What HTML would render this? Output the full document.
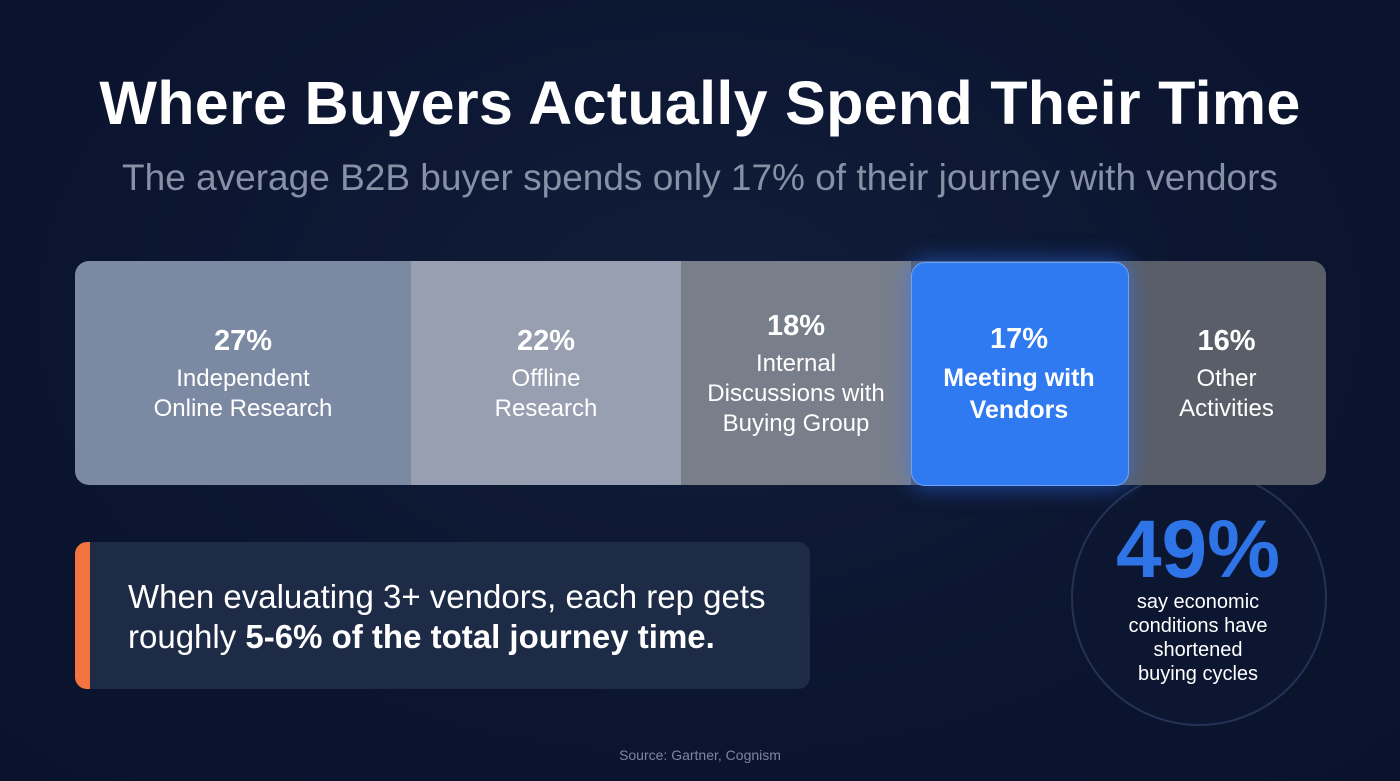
<!DOCTYPE html>
<html><head><style>
body{margin:0;width:1400px;height:781px;overflow:hidden;background:radial-gradient(ellipse at 50% 40%,#111d3a 0%,#0b1530 60%,#0a132b 100%);font-family:"Liberation Sans",sans-serif;color:#fff;position:relative}
.a{position:absolute}
.t{left:0;width:1400px;text-align:center}
.seg{position:absolute;top:261px;height:224px;display:flex;flex-direction:column;align-items:center;justify-content:center;text-align:center;font-size:24px;line-height:30px}
.seg b{font-size:29px;line-height:38px;margin-bottom:4px}
</style></head><body>
<div class="a t" style="top:68px;font-size:61px;font-weight:bold;letter-spacing:0.3px">Where Buyers Actually Spend Their Time</div>
<div class="a t" style="top:157px;font-size:37px;color:#8691a6">The average B2B buyer spends only 17% of their journey with vendors</div>
<div class="a" style="left:1071px;top:470px;width:252px;height:252px;border-radius:50%;border:2px solid #243256;background:#0c1630"></div>
<div class="a" style="left:75px;top:261px;width:1251px;height:224px;border-radius:14px;overflow:hidden">
<div class="a" style="left:0;top:0;width:336px;height:224px;background:#7b89a2"></div>
<div class="a" style="left:336px;top:0;width:270px;height:224px;background:#979fb0"></div>
<div class="a" style="left:606px;top:0;width:230px;height:224px;background:#797e8b"></div>
<div class="a" style="left:836px;top:0;width:415px;height:224px;background:#5a5e68"></div>
</div>
<div class="a" style="left:911px;top:262px;width:216px;height:222px;border-radius:14px;background:#2f7af0;border:1px solid #6ea4f7;box-shadow:0 0 24px rgba(50,120,255,0.6)"></div>
<div class="seg" style="left:75px;width:336px"><b>27%</b>Independent<br>Online Research</div>
<div class="seg" style="left:411px;width:270px"><b>22%</b>Offline<br>Research</div>
<div class="seg" style="left:681px;width:230px"><b>18%</b>Internal<br>Discussions with<br>Buying Group</div>
<div class="seg" style="left:911px;width:216px;font-weight:bold;font-size:25px;line-height:32px"><b>17%</b>Meeting with<br>Vendors</div>
<div class="seg" style="left:1127px;width:199px"><b>16%</b>Other<br>Activities</div>
<div class="a" style="left:75px;top:542px;width:735px;height:147px;border-radius:12px;background:#1e2b46;overflow:hidden">
<div class="a" style="left:0;top:0;width:15px;height:147px;background:#f47440"></div>
<div class="a" style="left:53px;top:35px;font-size:33px;line-height:40px">When evaluating 3+ vendors, each rep gets<br>roughly <b>5-6% of the total journey time.</b></div>
</div>
<div class="a" style="left:1071px;top:505px;width:254px;text-align:center;font-size:82px;font-weight:bold;color:#2f74e6;line-height:90px">49%</div>
<div class="a" style="left:1071px;top:590px;width:254px;text-align:center;font-size:20px;line-height:24px">say economic<br>conditions have<br>shortened<br>buying cycles</div>
<div class="a t" style="top:747px;font-size:14px;color:#7d879b">Source: Gartner, Cognism</div>
</body></html>
